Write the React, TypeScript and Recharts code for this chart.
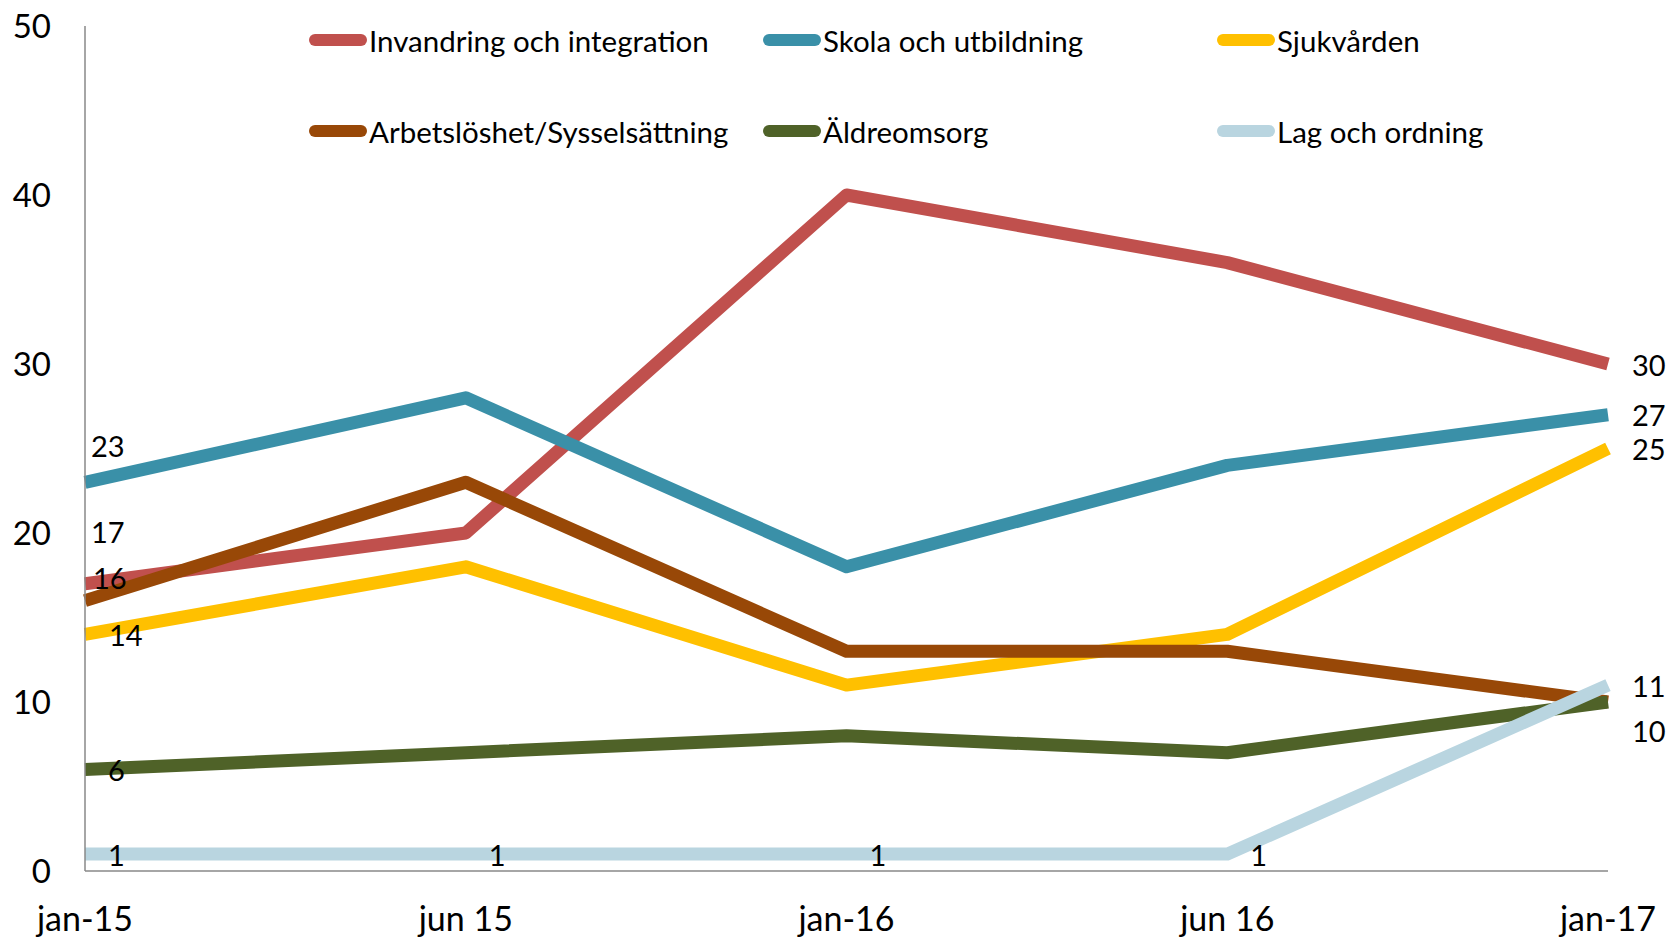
import { LineChart, Line, XAxis, YAxis, Legend, LabelList } from "recharts";

const months = ["jan-15", "jun 15", "jan-16", "jun 16", "jan-17"];
const invandring = [17, 20, 40, 36, 30];
const skola = [23, 28, 18, 24, 27];
const sjukvarden = [14, 18, 11, 14, 25];
const arbetsloshet = [16, 23, 13, 13, 10];
const aldreomsorg = [6, 7, 8, 7, 10];
const lagOrdning = [1, 1, 1, 1, 11];
const yTicks = [0, 10, 20, 30, 40, 50];

const FONT = "Lato, 'Open Sans', sans-serif";

const data = months.map((m, i) => ({
  month: m,
  inv: invandring[i],
  sko: skola[i],
  sju: sjukvarden[i],
  arb: arbetsloshet[i],
  ald: aldreomsorg[i],
  lag: lagOrdning[i],
}));

// which points get a label, and where it sits relative to the point [dx, dy]
type Place = Record<number, [number, number]>;

const series: { key: string; name: string; color: string; labels: Place }[] = [
  { key: "inv", name: "Invandring och integration", color: "#C0504D", labels: { 0: [6, -52], 4: [24, 0] } },
  { key: "sko", name: "Skola och utbildning", color: "#3A90A8", labels: { 0: [6, -37], 4: [24, 0] } },
  { key: "sju", name: "Sjukvården", color: "#FFC000", labels: { 0: [24, 0], 4: [24, 0] } },
  { key: "arb", name: "Arbetslöshet/Sysselsättning", color: "#984807", labels: { 0: [8, -23] } },
  { key: "ald", name: "Äldreomsorg", color: "#4F6228", labels: { 0: [23, 0], 4: [24, 28] } },
  { key: "lag", name: "Lag och ordning", color: "#B9D5E0", labels: { 0: [23, 0], 1: [23, 0], 2: [23, 0], 3: [23, 0], 4: [24, 0] } },
];

function makeLabel(place: Place) {
  return (props: any) => {
    const { x, y, value, index } = props;
    const p = place[index];
    if (!p) return null;
    return (
      <text
        x={x + p[0]}
        y={y + p[1]}
        dominantBaseline="central"
        fontSize={29}
        fontFamily={FONT}
        fill="#000"
      >
        {value}
      </text>
    );
  };
}

function LegendBox() {
  return (
    <div style={{ position: "relative", height: 0, width: 1669 }}>
      {series.map((s, i) => {
        const col = i % 3;
        const row = Math.floor(i / 3);
        return (
          <div
            key={s.key}
            style={{
              position: "absolute",
              left: 309 + col * 454,
              top: 40 + row * 91 - 20,
              height: 40,
              display: "flex",
              alignItems: "center",
              whiteSpace: "nowrap",
              fontFamily: FONT,
              fontSize: 29.5,
              color: "#000",
            }}
          >
            <span
              style={{
                display: "inline-block",
                width: 58,
                height: 12,
                borderRadius: 6,
                background: s.color,
                marginRight: 2,
              }}
            />
            {s.name}
          </div>
        );
      })}
    </div>
  );
}

export default function App() {
  return (
    <div style={{ position: "absolute", left: 0, top: 0, background: "#fff" }}>
      <LineChart
        width={1669}
        height={937}
        data={data}
        margin={{ top: 26, right: 61, bottom: 0, left: 0 }}
      >
        <XAxis
          dataKey="month"
          height={66}
          tickLine={false}
          tickMargin={30}
          stroke="#898989"
          strokeWidth={1.5}
          tick={{ fill: "#000", fontSize: 34, fontFamily: FONT }}
          interval={0}
        />
        <YAxis
          width={85}
          domain={[0, 50]}
          ticks={yTicks}
          tickLine={false}
          tickMargin={28}
          stroke="#898989"
          strokeWidth={1.5}
          tick={{ fill: "#000", fontSize: 33, fontFamily: FONT }}
        />
        <Legend
          verticalAlign="top"
          wrapperStyle={{ top: 0, left: 0, width: 1669, height: 0 }}
          content={() => <LegendBox />}
        />
        {series.map((s) => (
          <Line
            key={s.key}
            type="linear"
            dataKey={s.key}
            name={s.name}
            stroke={s.color}
            strokeWidth={13}
            strokeLinejoin="round"
            dot={false}
            activeDot={false}
            isAnimationActive={false}
          >
            <LabelList dataKey={s.key} content={makeLabel(s.labels)} />
          </Line>
        ))}
      </LineChart>
    </div>
  );
}
